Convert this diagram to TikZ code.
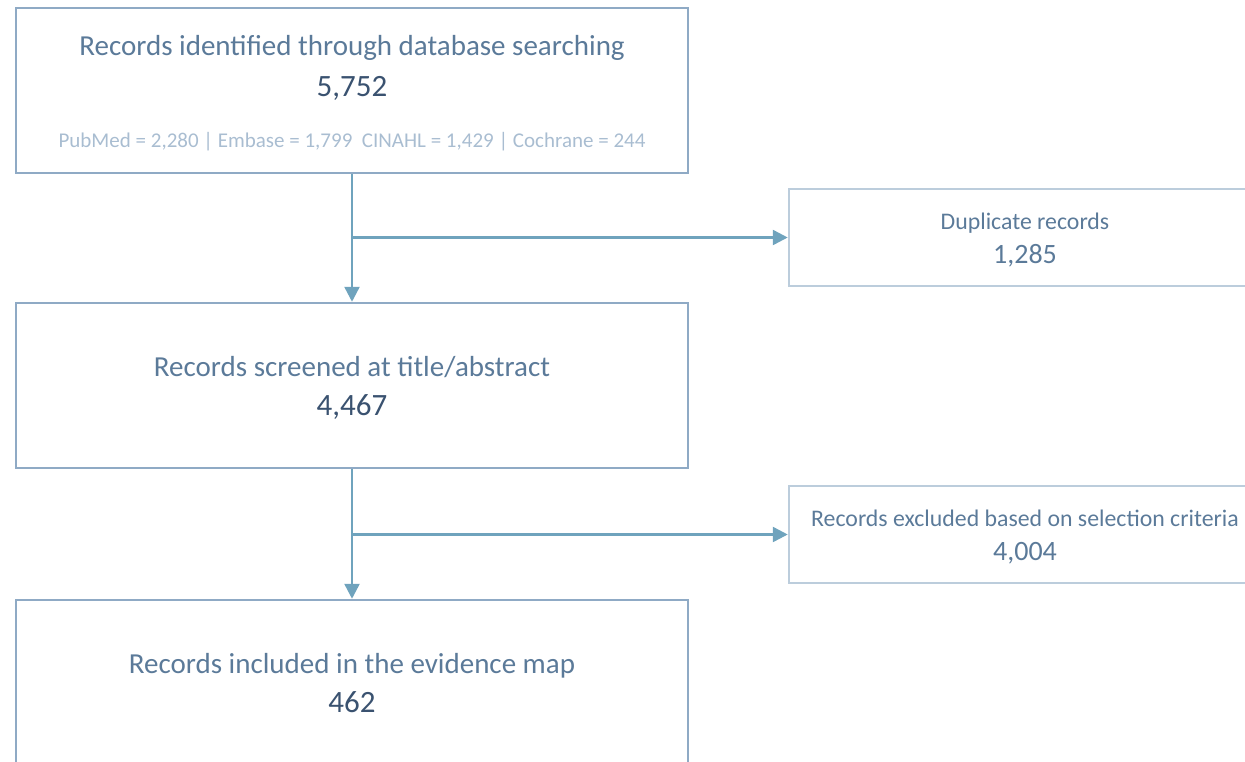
\documentclass[tikz,border=0pt]{standalone}
\usepackage{fontspec}
\setmainfont{Carlito}
\usetikzlibrary{arrows.meta}
\definecolor{titlecol}{HTML}{5B7A99}
\definecolor{numcol}{HTML}{3A5270}
\definecolor{subcol}{HTML}{A9BDD1}
\definecolor{mainborder}{HTML}{8FAAC5}
\definecolor{sideborder}{HTML}{BCCDDC}
\definecolor{arrcol}{HTML}{6FA3BD}
\tikzset{
  mainbox/.style={draw=mainborder, line width=2.5pt, minimum width=672pt, minimum height=165pt, inner sep=0pt},
  sidebox/.style={draw=sideborder, line width=2.5pt, minimum width=472pt, minimum height=97pt, inner sep=0pt},
  ttl/.style={anchor=base, inner sep=0pt, text=titlecol, font=\fontsize{29}{31}\selectfont},
  bignum/.style={anchor=base, inner sep=0pt, text=numcol, font=\fontsize{31}{33}\selectfont},
  subtxt/.style={anchor=base, inner sep=0pt, text=subcol, font=\fontsize{21}{23}\selectfont},
  sidettl/.style={anchor=base, inner sep=0pt, text=titlecol, font=\fontsize{23.8}{25}\selectfont},
  sidenum/.style={anchor=base, inner sep=0pt, text=titlecol, font=\fontsize{28}{30}\selectfont},
  arr/.style={draw=arrcol, line width=2.5pt, -{Triangle[width=15pt,length=15pt]}},
}
\begin{document}
\begin{tikzpicture}[x=1pt,y=-1pt]
\useasboundingbox (0,0) rectangle (1245,761);
\clip (0,0) rectangle (1245,761);
% boxes
\node[mainbox] (b1) at (352,90.5) {};
\node[mainbox] (b2) at (352,385.5) {};
\node[mainbox] (b3) at (352,682.5) {};
\node[sidebox] (dup) at (1025,237.5) {};
\node[sidebox] (exc) at (1025,534.5) {};
% texts
\node[ttl] (t1) at (352,55) {Records identified through database searching};
\node[bignum] (n1) at (352,96) {5,752};
\node[subtxt] (s1) at (352,147) {PubMed = 2,280 | Embase = 1,799\ \ CINAHL = 1,429 | Cochrane = 244};
\node[ttl] (t2) at (352,376) {Records screened at title/abstract};
\node[bignum] (n2) at (352,415) {4,467};
\node[ttl] (t3) at (352,673) {Records included in the evidence map};
\node[bignum] (n3) at (352,712) {462};
\node[sidettl] (dt) at (1025,229) {Duplicate records};
\node[sidenum] (dn) at (1025,263) {1,285};
\node[sidettl] (et) at (1025,526) {Records excluded based on selection criteria};
\node[sidenum] (en) at (1025,560) {4,004};
% connectors
\draw[arr] (b1.south) -- (b2.north);
\draw[arr] (b1.south |- dup.west) -- (dup.west);
\draw[arr] (b2.south) -- (b3.north);
\draw[arr] (b2.south |- exc.west) -- (exc.west);
\end{tikzpicture}
\end{document}
